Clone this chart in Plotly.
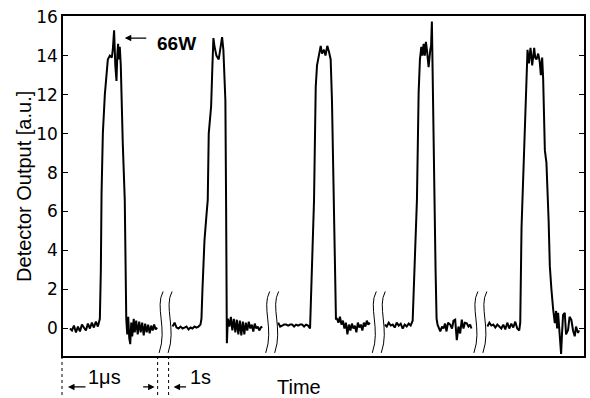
import plotly.graph_objects as go

# ---- data (time in arbitrary units, detector output in a.u.) ----
t1 = [7, 9, 11, 13, 15, 17, 19, 21, 23, 25, 27, 29, 31, 33, 35, 37, 38, 38.7, 40, 42, 44, 45, 47, 49, 50,
      51.3, 52.5, 53.7, 54.5, 55.3, 56, 57, 58, 58.7, 60, 62, 63, 63.5, 64.5, 65.5, 66.5, 67.5, 68.5, 69.5,
      71, 72, 73.5, 75, 76.5, 78, 79.5, 81, 82.5, 84, 85.5, 87, 88.5, 90, 91.5, 93, 94.5]
y1 = [0.0, -0.1, 0.15, -0.2, 0.1, -0.15, 0.2, 0.05, -0.1, 0.25, 0.0, 0.3, 0.05, 0.35, 0.1, 0.5, 3.0, 6.9, 10.0,
      12.0, 13.3, 13.8, 14.0, 13.9, 14.3, 15.3, 13.5, 12.7, 14.0, 14.6, 13.8, 14.45, 13.5, 11.7, 9.5, 6.6, 3.0,
      0.5, -0.3, 0.6, -0.5, -0.8, 0.3, -0.4, 0.5, -0.2, 0.4, -0.3, 0.35, -0.2, 0.3, -0.35, 0.25, -0.2, 0.2,
      -0.25, 0.15, -0.1, 0.2, -0.05, 0.05]

t2 = [110, 112, 114, 116, 118, 120, 122, 124, 126, 128, 130, 132, 134, 136, 138, 139, 140, 142, 144, 145.3,
      146.3, 148.7, 150, 151, 152, 154, 156.3, 158, 159.7, 161, 162, 163, 163.7, 164.2, 164.5, 165.5, 167,
      168.5, 170, 171.5, 173, 174.5, 176, 177.5, 179, 180.5, 182, 183.5, 185, 186.5, 188, 189.5, 191, 192.5,
      194, 195.5, 197, 198.5, 200]
y2 = [0.1, 0.3, 0.05, 0.0, 0.1, 0.0, 0.05, 0.1, -0.05, 0.05, 0.0, 0.1, 0.05, 0.1, 0.2, 0.5, 2.0, 4.5, 5.8, 6.6,
      10.0, 11.4, 13.5, 14.9, 14.5, 14.0, 13.8, 14.3, 14.95, 14.3, 13.0, 11.7, 6.6, 2.0, -0.75, 0.5, 0.1, 0.6,
      -0.1, 0.5, -0.2, 0.45, -0.3, 0.4, -0.35, 0.35, -0.3, 0.3, -0.1, 0.35, 0.0, 0.2, -0.15, 0.25, 0.0, 0.1,
      -0.1, 0.05, 0.1]

t3 = [216, 218, 220, 222, 224, 226, 228, 230, 232, 234, 236, 238, 240, 242, 244, 246, 248, 249, 250.5, 252,
      253, 253.7, 255, 256, 257.5, 258.7, 260, 262, 263.5, 265.3, 267, 268.7, 270, 271, 272, 273, 274, 275,
      276.5, 278, 279.5, 281, 282.5, 284, 285.5, 287, 288.5, 290, 291.5, 293, 294.5, 296, 297.5, 299, 300.5,
      302, 303.5, 305, 306.5, 308]
y3 = [0.3, 0.1, 0.15, 0.2, 0.2, 0.15, 0.2, 0.2, 0.1, 0.2, 0.15, 0.2, 0.2, 0.1, 0.2, 0.15, 0.0, 1.5, 4.0, 6.6,
      10.0, 12.4, 13.5, 13.8, 14.2, 14.5, 14.1, 14.3, 14.0, 14.5, 14.2, 13.8, 11.7, 9.0, 6.6, 3.0, 0.5, 0.5,
      0.3, 0.6, 0.2, 0.4, 0.0, 0.3, -0.3, 0.2, -0.1, 0.25, 0.0, 0.15, -0.2, 0.3, 0.05, 0.2, -0.1, 0.3, 0.1,
      0.4, 0.2, 0.3]

t4 = [323, 325, 327, 329, 331, 333, 335, 337, 339, 341, 343, 345, 347, 349, 351, 352, 353.5, 355.3, 356.2,
      357, 358.3, 359.7, 360.8, 362, 363.2, 364.3, 365.5, 367, 368.7, 369.5, 370.3, 371.3, 372.2, 373, 374,
      375, 376, 378.7, 380.5, 382, 383.5, 385, 386.5, 388.7, 390.5, 392, 393.7, 395.3, 397, 398.7, 400.3,
      402, 403.5, 405.3, 407, 408.7, 410]
y4 = [0.2, 0.1, 0.3, 0.15, 0.2, 0.05, 0.3, 0.15, 0.25, 0.0, 0.2, 0.1, 0.25, 0.15, 0.4, 2.0, 4.5, 6.6, 9.5,
      12.1, 13.8, 14.45, 14.0, 14.6, 14.0, 14.7, 14.2, 13.4, 14.3, 14.5, 15.75, 11.7, 9.0, 6.6, 3.0, 0.5, 0.2,
      -0.15, 0.1, 0.0, 0.25, -0.15, 0.3, 0.2, 0.0, 0.4, 0.45, -0.6, 0.1, -0.25, 0.45, 0.0, 0.3, 0.27, 0.1,
      0.2, 0.0]

t5 = [426, 428, 430, 432, 434, 436, 438, 440, 442, 444, 446, 448, 450, 452, 454, 456, 458, 459, 460.3, 462,
      463, 464.3, 465.3, 466.3, 467.7, 469.3, 471, 473, 474, 475.3, 477, 478.5, 479.7, 481, 482, 482.7, 483.7,
      485.3, 487, 487.5, 488.7, 489.5, 490.3, 492, 493.7, 495, 496, 497, 498.5, 500, 501, 502, 503.7, 505,
      507, 508.5, 510.3, 512, 513.7, 515, 517, 518]
y5 = [0.1, 0.3, 0.15, 0.2, 0.05, 0.2, 0.1, 0.0, 0.2, -0.05, 0.3, 0.0, 0.25, 0.05, 0.35, 0.0, -0.1, 0.3, 5.2,
      8.0, 10.0, 11.7, 13.5, 14.3, 13.6, 14.4, 13.5, 14.4, 13.9, 13.8, 14.1, 13.7, 13.0, 13.9, 12.8, 11.7,
      9.15, 8.5, 6.6, 5.5, 3.2, 2.5, 2.0, 1.0, 0.28, 0.9, 0.0, 0.8, -0.5, -1.3, -0.2, 0.7, 0.8, -0.3, -0.08,
      0.6, 0.44, -0.1, -0.4, 0.1, -0.23, -0.1]

segments = [(t1, y1), (t2, y2), (t3, y3), (t4, y4), (t5, y5)]
break_centers = [98, 205, 312, 414]   # time-axis breaks (//)
x_range = [0, 523]
y_range = [-1.41, 16.03]
y_ticks = [0, 2, 4, 6, 8, 10, 12, 14, 16]

# scale markers below the axis
dash_x = [-1, 95, 106]
label_1us = "1μs"
label_1s = "1s"
peak_label = "66W"

# ---- build ----
xs, ys = [], []
for tt, yy in segments:
    xs += list(tt) + [None]
    ys += list(yy) + [None]

fig = go.Figure()
fig.add_trace(go.Scatter(x=xs, y=ys, mode="lines", connectgaps=False,
                         line=dict(color="black", width=2), hoverinfo="skip"))

shapes = []
for c in break_centers:
    for off in (0, 9):
        cx = c + off
        path = (f"M {cx+2.5},1.9 C {cx-6},1.1 {cx+7},0.0 {cx-1.5},-1.25")
        shapes.append(dict(type="path", path=path, xref="x", yref="y",
                           line=dict(color="black", width=1), layer="above"))

def to_paper(x):
    return (x - x_range[0]) / (x_range[1] - x_range[0])

for dx in dash_x:
    shapes.append(dict(type="line", xref="paper", yref="paper",
                       x0=to_paper(dx), x1=to_paper(dx), y0=0, y1=-0.125,
                       line=dict(color="black", width=1, dash="3px,3px")))

font_txt = "Liberation Sans, Arial, sans-serif"
annotations = [
    # 66W peak label with arrow
    dict(x=62, y=14.9, xref="x", yref="y", text="", showarrow=True, ax=23, ay=0,
         arrowhead=2, arrowsize=1, arrowwidth=1.3, arrowcolor="black"),
    dict(x=114, y=14.6, xref="x", yref="y", text=f"<b>{peak_label}</b>", showarrow=False,
         font=dict(family=font_txt, size=19, color="black"), xanchor="center", yanchor="middle"),
    # axis titles
    dict(x=0.453, y=-0.091, xref="paper", yref="paper", text="Time", showarrow=False,
         font=dict(family=font_txt, size=20, color="black"), xanchor="center", yanchor="middle"),
    dict(x=-0.075, y=0.5, xref="paper", yref="paper", text="Detector Output [a.u.]",
         textangle=-90, showarrow=False, xanchor="center", yanchor="middle",
         font=dict(family=font_txt, size=20, color="black")),
    # scale arrows
    dict(x=5, y=-0.091, xref="x", yref="paper", text="", showarrow=True, ax=19, ay=0,
         arrowhead=2, arrowsize=1, arrowwidth=1.3, arrowcolor="black"),
    dict(x=42, y=-0.062, xref="x", yref="paper", text=label_1us, showarrow=False,
         xanchor="center", yanchor="middle",
         font=dict(family=font_txt, size=20, color="black")),
    dict(x=92, y=-0.091, xref="x", yref="paper", text="", showarrow=True, ax=-13, ay=0,
         arrowhead=2, arrowsize=1, arrowwidth=1.3, arrowcolor="black"),
    dict(x=111, y=-0.091, xref="x", yref="paper", text="", showarrow=True, ax=14, ay=0,
         arrowhead=2, arrowsize=1, arrowwidth=1.3, arrowcolor="black"),
    dict(x=138, y=-0.062, xref="x", yref="paper", text=label_1s, showarrow=False,
         xanchor="center", yanchor="middle",
         font=dict(family=font_txt, size=20, color="black")),
]

fig.update_layout(
    width=590, height=398,
    margin=dict(l=63, r=4, t=16, b=42),
    paper_bgcolor="white", plot_bgcolor="white",
    showlegend=False,
    shapes=shapes,
    annotations=annotations,
    xaxis=dict(range=x_range, showgrid=False, zeroline=False, showticklabels=False,
               ticks="", showline=True, linecolor="black", linewidth=1.5, mirror=True),
    yaxis=dict(range=y_range, tickvals=y_ticks, showgrid=False, zeroline=False,
               ticks="inside", ticklen=5, tickwidth=1.2, tickcolor="black",
               showline=True, linecolor="black", linewidth=1.5, mirror="ticks",
               tickfont=dict(family="DejaVu Sans, sans-serif", size=17, color="black")),
)

fig.write_html("out.html", config={"displayModeBar": False},
               post_script="document.body.style.margin='0';document.body.style.overflow='hidden';")
